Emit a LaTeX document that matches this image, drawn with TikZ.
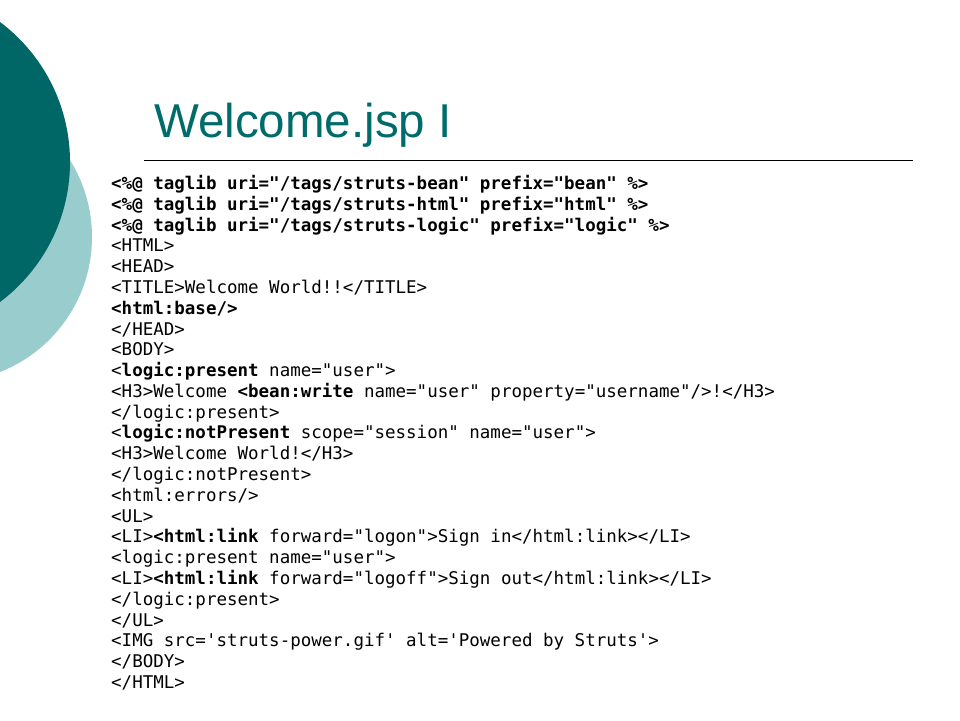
\documentclass[tikz,border=0pt]{standalone}
\usepackage{fontspec}
\setmainfont{Liberation Sans}
\setmonofont{DejaVu Sans Mono}
\definecolor{darkteal}{HTML}{006666}
\definecolor{lightteal}{HTML}{99CCCC}
\definecolor{titleteal}{HTML}{006B6B}
\begin{document}
\begin{tikzpicture}[x=1pt,y=-1pt,
  codeline/.style={anchor=base west,inner sep=0pt,font=\ttfamily\fontsize{17.5}{20}\selectfont},
  titletext/.style={anchor=base west,inner sep=0pt,text=titleteal,font=\fontsize{47.5}{56}\selectfont}]
\useasboundingbox (0,0) rectangle (960,720);
\fill[white] (0,0) rectangle (960,720);
\begin{scope}
\clip (0,0) rectangle (960,720);
\fill[lightteal] (-53,237) circle[radius=145];
\fill[darkteal] (-105,162) circle[radius=175];
\end{scope}
\node[titletext] (title) at (154,137) {Welcome.jsp I};
\coordinate (rl) at (144,160.5);
\coordinate (rr) at (913,160.5);
\draw[line width=1.1pt] (rl) -- (rr);
\def\bl#1{189.5+20.79*#1}
\node[codeline] (l1) at (111,{\bl{0}}) {\bfseries <\%@ taglib uri="/tags/struts-bean" prefix="bean" \%>};
\node[codeline] (l2) at (111,{\bl{1}}) {\bfseries <\%@ taglib uri="/tags/struts-html" prefix="html" \%>};
\node[codeline] (l3) at (111,{\bl{2}}) {\bfseries <\%@ taglib uri="/tags/struts-logic" prefix="logic" \%>};
\node[codeline] (l4) at (111,{\bl{3}}) {<HTML>};
\node[codeline] (l5) at (111,{\bl{4}}) {<HEAD>};
\node[codeline] (l6) at (111,{\bl{5}}) {<TITLE>Welcome World!!</TITLE>};
\node[codeline] (l7) at (111,{\bl{6}}) {\bfseries <html:base/>};
\node[codeline] (l8) at (111,{\bl{7}}) {</HEAD>};
\node[codeline] (l9) at (111,{\bl{8}}) {<BODY>};
\node[codeline] (l10) at (111,{\bl{9}}) {<\textbf{logic:present} name="user">};
\node[codeline] (l11) at (111,{\bl{10}}) {<H3>Welcome \textbf{<bean:write} name="user" property="username"/>!</H3>};
\node[codeline] (l12) at (111,{\bl{11}}) {</logic:present>};
\node[codeline] (l13) at (111,{\bl{12}}) {<\textbf{logic:notPresent} scope="session" name="user">};
\node[codeline] (l14) at (111,{\bl{13}}) {<H3>Welcome World!</H3>};
\node[codeline] (l15) at (111,{\bl{14}}) {</logic:notPresent>};
\node[codeline] (l16) at (111,{\bl{15}}) {<html:errors/>};
\node[codeline] (l17) at (111,{\bl{16}}) {<UL>};
\node[codeline] (l18) at (111,{\bl{17}}) {<LI>\textbf{<html:link} forward="logon">Sign in</html:link></LI>};
\node[codeline] (l19) at (111,{\bl{18}}) {<logic:present name="user">};
\node[codeline] (l20) at (111,{\bl{19}}) {<LI>\textbf{<html:link} forward="logoff">Sign out</html:link></LI>};
\node[codeline] (l21) at (111,{\bl{20}}) {</logic:present>};
\node[codeline] (l22) at (111,{\bl{21}}) {</UL>};
\node[codeline] (l23) at (111,{\bl{22}}) {<IMG src=\textquotesingle struts-power.gif\textquotesingle{} alt=\textquotesingle Powered by Struts\textquotesingle>};
\node[codeline] (l24) at (111,{\bl{23}}) {</BODY>};
\node[codeline] (l25) at (111,{\bl{24}}) {</HTML>};
\end{tikzpicture}
\end{document}
